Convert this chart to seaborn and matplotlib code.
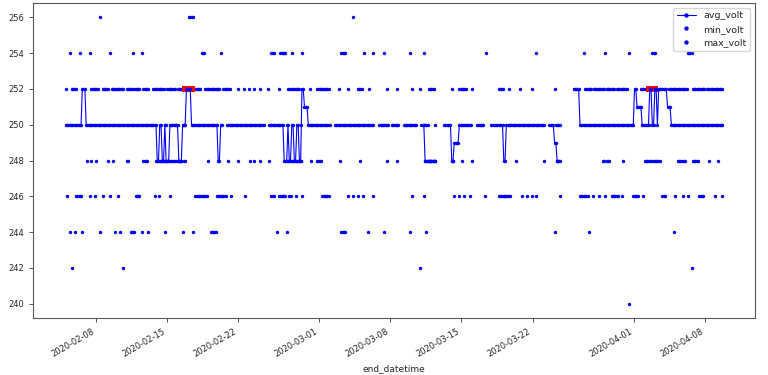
import numpy as np
import pandas as pd
import matplotlib
matplotlib.use("Agg")
import matplotlib.pyplot as plt
import matplotlib.dates as mdates
from matplotlib.lines import Line2D
import seaborn as sns

# ---------------- data (days counted from 2020-02-01 00:00) ----------------
origin = pd.Timestamp("2020-02-01")
sample_start = "2020-02-05 01:00"
sample_end = "2020-04-09 17:00"
sample_freq = "3h"

# avg_volt: level changes (day, level); nan = no data
avg_change_day = [4.00, 5.64, 5.94, 12.95, 13.25, 13.49, 13.69, 13.89, 14.23, 15.11, 15.51,
                  15.90, 16.34, 18.99, 19.28, 19.53, 19.82, 23.65, 23.95, 25.49, 25.81,
                  26.04, 26.27, 26.53, 26.74, 26.92, 27.23, 27.46, 27.80, 30.13, 30.42,
                  34.35, 34.84, 35.87, 36.16, 36.85, 37.29, 38.62, 38.96, 39.30, 40.43,
                  41.22, 41.97, 42.22, 42.69, 43.96, 44.50, 45.19, 45.83, 47.06, 47.40,
                  51.23, 51.62, 52.11, 52.37, 52.70, 54.00, 54.59, 59.96, 60.28, 60.72,
                  61.46, 61.73, 61.92, 62.17, 62.32, 63.20, 63.64]
avg_level = [250, 252, 250, 248, 250, 248, 250, 248, 250, 248, 250,
             252, 250, 248, 250, np.nan, 250, np.nan, 250, 248, 250,
             248, 250, 248, 250, 248, 252, 251, 250, np.nan, 250,
             np.nan, 250, np.nan, 250, np.nan, 250, np.nan, 250, 248, np.nan,
             250, 248, 249, 250, np.nan, 250, np.nan, 250, 248, 250,
             np.nan, 250, 249, 248, np.nan, 252, 250, 252, 251, 250,
             252, 250, 252, 250, 252, 251, 250]

# max_volt readings that differ from avg: (from_day, to_day)
max250_runs = [(12.95, 15.70), (25.42, 27.18), (39.30, 40.40), (52.11, 52.70)]
max252_runs = [(4.07, 4.07), (4.61, 5.01), (6.58, 7.21), (7.61, 8.19), (8.54, 9.72), (10.01, 10.50),
               (10.80, 11.29), (11.58, 12.22), (12.66, 13.64), (13.98, 14.77), (15.06, 15.56),
               (16.78, 17.27), (17.71, 19.14), (19.48, 20.22), (21.00, 21.00), (21.49, 21.49),
               (21.98, 21.98), (22.57, 22.57), (23.16, 23.16), (23.95, 23.95), (24.98, 24.98),
               (25.86, 26.20), (26.47, 27.02), (28.02, 28.02), (28.82, 29.96), (30.96, 30.96),
               (31.80, 31.80), (32.78, 33.12), (33.86, 33.86), (35.69, 35.69), (36.70, 36.70),
               (38.15, 38.15), (38.96, 38.96), (39.78, 40.34), (42.05, 42.05), (42.82, 43.38),
               (44.06, 44.06), (46.65, 46.98), (47.65, 47.65), (48.78, 48.78), (49.86, 49.86),
               (52.14, 52.14), (55.16, 55.75), (56.05, 57.03), (57.32, 58.00), (58.30, 59.28),
               (60.72, 61.43), (63.40, 65.14), (65.75, 66.93), (67.13, 68.70)]
max254_runs = [(4.39, 4.39), (5.43, 5.43), (6.41, 6.41), (8.44, 8.44), (10.67, 10.67), (11.48, 11.48),
               (17.42, 17.67), (19.24, 19.24), (24.24, 24.54), (25.22, 25.61), (26.27, 26.27),
               (27.25, 27.25), (31.21, 31.60), (33.37, 33.37), (34.35, 34.35), (35.36, 35.36),
               (37.91, 37.91), (39.23, 39.23), (45.37, 45.37), (50.35, 50.35), (55.06, 55.06),
               (57.22, 57.22), (59.57, 59.57), (61.80, 62.07), (65.29, 65.63)]
max256_runs = [(7.43, 7.43), (16.14, 16.49), (32.26, 32.26)]

# min_volt readings that differ from avg
min248_runs = [(6.18, 6.18), (6.58, 6.58), (7.10, 7.10), (8.15, 8.15), (8.70, 8.70), (9.98, 10.18),
               (11.65, 12.07), (12.95, 15.73), (18.03, 18.03), (19.17, 19.33), (20.05, 20.05),
               (21.07, 21.07), (22.11, 22.11), (22.60, 22.60), (23.13, 23.13), (24.01, 24.01),
               (25.55, 27.35), (28.17, 28.17), (28.82, 29.15), (31.01, 31.01), (33.00, 33.00),
               (35.69, 35.69), (36.68, 36.68), (39.29, 40.43), (42.07, 42.23), (43.05, 43.05),
               (44.04, 44.04), (47.14, 47.47), (48.45, 48.45), (51.16, 51.16), (52.37, 52.70),
               (56.92, 57.48), (58.93, 58.93), (61.04, 61.53), (61.83, 62.51), (64.28, 65.07),
               (65.72, 66.44), (67.36, 67.36), (68.31, 68.31)]
min246_runs = [(4.19, 4.19), (5.10, 5.53), (6.41, 6.41), (6.90, 6.90), (7.72, 7.72), (8.47, 8.47),
               (9.20, 9.20), (10.82, 11.32), (12.73, 12.73), (13.22, 13.22), (14.26, 14.26),
               (16.78, 17.96), (18.94, 19.82), (20.31, 20.31), (21.62, 21.62), (24.24, 24.54),
               (25.05, 25.71), (26.04, 26.20), (26.69, 26.69), (27.25, 27.25), (29.31, 29.96),
               (31.77, 31.77), (32.26, 32.26), (32.81, 32.81), (33.34, 33.34), (34.32, 34.32),
               (38.15, 38.15), (39.23, 39.23), (42.23, 42.23), (42.82, 42.82), (43.31, 43.31),
               (43.80, 43.80), (45.34, 45.34), (46.65, 47.79), (48.94, 48.94), (49.43, 49.43),
               (49.92, 49.92), (50.35, 50.35), (52.70, 52.70), (54.66, 55.38), (55.91, 55.91),
               (56.56, 56.56), (57.22, 57.22), (57.77, 58.42), (58.76, 58.76), (59.89, 60.39),
               (60.94, 60.94), (62.78, 63.10), (64.09, 64.09), (64.80, 64.80), (65.29, 65.29),
               (66.44, 66.83), (67.91, 67.91), (68.63, 68.63)]
min244_runs = [(4.39, 4.39), (4.88, 4.88), (5.69, 5.69), (7.43, 7.43), (8.93, 8.93), (9.42, 9.42),
               (10.43, 10.77), (11.48, 11.48), (12.20, 12.20), (13.77, 13.77), (15.48, 15.48),
               (16.49, 16.49), (18.28, 18.84), (24.80, 24.80), (25.81, 25.81), (31.18, 31.60),
               (33.83, 33.83), (35.36, 35.36), (37.91, 37.91), (39.48, 39.48), (52.21, 52.21),
               (55.55, 55.55), (63.89, 63.89)]
min242_runs = [(4.71, 4.71), (9.65, 9.65), (38.96, 38.96), (65.63, 65.63)]
min240_runs = [(59.57, 59.57)]

# flagged (red) avg readings
flag_runs = [(15.80, 16.45), (61.46, 62.02)]
flag_level = 252

y_ticks = [240, 242, 244, 246, 248, 250, 252, 254, 256]

# ---------------- build series ----------------
times = pd.date_range(sample_start, sample_end, freq=sample_freq)
tday = np.asarray((times - origin) / pd.Timedelta(days=1))
half = (pd.Timedelta(sample_freq) / pd.Timedelta(days=1)) / 2

idx = np.searchsorted(avg_change_day, tday, side="right") - 1
avg = np.array(avg_level, dtype=float)[idx]


def fill(runs_by_level):
    out = np.full(len(tday), np.nan)
    for level, runs in runs_by_level:
        for s, e in runs:
            out[(tday >= s - half) & (tday <= e + half)] = level
    return out


max_volt = fill([(250, max250_runs), (252, max252_runs), (254, max254_runs), (256, max256_runs)])
min_volt = fill([(248, min248_runs), (246, min246_runs), (244, min244_runs),
                 (242, min242_runs), (240, min240_runs)])
flag = fill([(flag_level, flag_runs)])

seg = np.cumsum(np.isnan(avg))
df_avg = pd.DataFrame({"end_datetime": times, "avg_volt": avg, "seg": seg}).dropna()

# ---------------- plot ----------------
sns.set_style("ticks")
plt.rcParams["font.family"] = ["DejaVu Sans"]

fig = plt.figure(figsize=(7.68, 3.75), dpi=100)
ax = fig.add_axes([0.043, 0.152, 0.940, 0.840])

sns.lineplot(data=df_avg, x="end_datetime", y="avg_volt", units="seg", estimator=None,
             sort=False, color="b", lw=0.8, marker=".", ms=4.3, markeredgecolor="b",
             markeredgewidth=0.3, markerfacecolor="b", legend=False, ax=ax)
m = ~np.isnan(min_volt)
sns.scatterplot(x=times[m], y=min_volt[m], color="b", s=6, linewidth=0, legend=False, ax=ax)
m = ~np.isnan(max_volt)
sns.scatterplot(x=times[m], y=max_volt[m], color="b", s=6, linewidth=0, legend=False, ax=ax)
m = ~np.isnan(flag)
sns.scatterplot(x=times[m], y=flag[m], color="red", marker="s", s=13, linewidth=0,
                legend=False, ax=ax)

span0, span1 = tday[0], tday[-1]
pad = (span1 - span0) * 0.05
ax.set_xlim(origin + pd.Timedelta(days=span0 - pad), origin + pd.Timedelta(days=span1 + pad))
ax.set_ylim(239.2, 256.8)
ax.set_yticks(y_ticks)

ax.xaxis.set_major_locator(mdates.DayLocator(bymonthday=[1, 8, 15, 22]))
ax.xaxis.set_major_formatter(mdates.DateFormatter("%Y-%m-%d"))
for lab in ax.get_xticklabels():
    lab.set_rotation(30)
    lab.set_ha("right")
ax.tick_params(axis="both", labelsize=6, length=3, width=0.6, color="0.2")
ax.set_xlabel("end_datetime", fontsize=6.5)
ax.set_ylabel("")
for sp in ax.spines.values():
    sp.set_linewidth(0.8)
    sp.set_color("0.35")

handles = [Line2D([], [], color="b", marker=".", ms=4.3, lw=0.8),
           Line2D([], [], color="b", marker=".", ms=4.3, ls="none"),
           Line2D([], [], color="b", marker=".", ms=4.3, ls="none")]
ax.legend(handles, ["avg_volt", "min_volt", "max_volt"], loc="upper right", fontsize=6.8,
          frameon=True, handlelength=2.0, borderpad=0.4, labelspacing=0.45)

fig.savefig("out.png", dpi=100)
